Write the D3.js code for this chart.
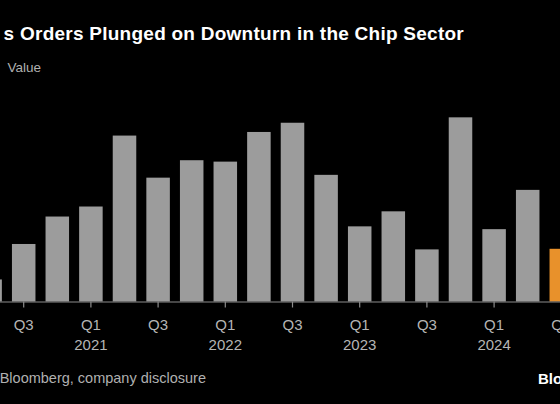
<!DOCTYPE html>
<html>
<head>
<meta charset="utf-8">
<script src="https://cdn.jsdelivr.net/npm/d3@7"></script>
<style>
  html, body { margin: 0; padding: 0; background: #000; overflow: hidden; }
  svg { display: block; font-family: "Liberation Sans", Arial, Helvetica, sans-serif; }
</style>
</head>
<body>
<svg id="chart" width="560" height="404"></svg>
<script>
const quarters = ["Q2","Q3","Q4","Q1","Q2","Q3","Q4","Q1","Q2","Q3","Q4","Q1","Q2","Q3","Q4","Q1","Q2","Q3"];
const years    = [2020,2020,2020,2021,2021,2021,2021,2022,2022,2022,2022,2023,2023,2023,2023,2024,2024,2024];
const bookings = [1.10,2.87,4.24,4.74,8.28,6.18,7.05,6.98,8.46,8.92,6.32,3.75,4.50,2.60,9.19,3.61,5.57,2.63];
const highlight = [false,false,false,false,false,false,false,false,false,false,false,false,false,false,false,false,false,true];
const titleText = "s Orders Plunged on Downturn in the Chip Sector";
const subtitleText = "Value";
const sourceText = "Bloomberg, company disclosure";
const logoText = "Blo";

const keys = quarters.map((q, i) => q + " " + years[i]);

const svg = d3.select("#chart");
const W = 560, H = 404;
svg.append("rect").attr("width", W).attr("height", H).attr("fill", "#000");

const baseY = 301.5;
const x = d3.scaleBand().domain(keys).range([-26.7, 578.1]).paddingInner(0.3).paddingOuter(0.15);
const y = d3.scaleLinear().domain([0, 10]).range([baseY, baseY - 200.4]);

// bars
svg.append("g").selectAll("rect").data(keys).join("rect")
  .attr("x", d => x(d))
  .attr("width", x.bandwidth())
  .attr("y", (d, i) => y(bookings[i]))
  .attr("height", (d, i) => y(0) - y(bookings[i]))
  .attr("fill", (d, i) => highlight[i] ? "#e8912b" : "#9c9c9c");

// axis
const tickKeys = keys.filter((k, i) => quarters[i] === "Q1" || quarters[i] === "Q3");
const axis = d3.axisBottom(x).tickValues(tickKeys).tickSize(6).tickSizeOuter(0).tickPadding(0).tickFormat(() => "");
const gAxis = svg.append("g").attr("transform", `translate(0,${baseY})`).call(axis);
gAxis.select(".domain").attr("stroke", "#8c8c8c").attr("stroke-width", 1.2);
gAxis.selectAll(".tick line").attr("stroke", "#8c8c8c").attr("stroke-width", 1.2);
gAxis.selectAll(".tick text").remove();

const labels = svg.append("g").attr("font-size", 15).attr("fill", "#b5b5b5").attr("text-anchor", "middle");
tickKeys.forEach(k => {
  const i = keys.indexOf(k);
  const cx = x(k) + x.bandwidth() / 2;
  labels.append("text").attr("x", cx).attr("y", 330).text(quarters[i]);
  if (quarters[i] === "Q1") {
    labels.append("text").attr("x", cx).attr("y", 350).text(years[i]);
  }
});

// title & subtitle
svg.append("text").attr("x", 464).attr("y", 40).attr("text-anchor", "end")
  .attr("font-size", 19).attr("font-weight", "bold").attr("fill", "#ffffff")
  .attr("letter-spacing", 0.25).text(titleText);
svg.append("text").attr("x", 41).attr("y", 72).attr("text-anchor", "end")
  .attr("font-size", 13.5).attr("fill", "#b0b0b0").text(subtitleText);

// source & logo
svg.append("text").attr("x", 206).attr("y", 383).attr("text-anchor", "end")
  .attr("font-size", 14.5).attr("fill", "#b0b0b0").text(sourceText);
svg.append("text").attr("x", 538).attr("y", 383.5)
  .attr("font-size", 15).attr("font-weight", "bold").attr("fill", "#ffffff").text(logoText);
</script>
</body>
</html>
